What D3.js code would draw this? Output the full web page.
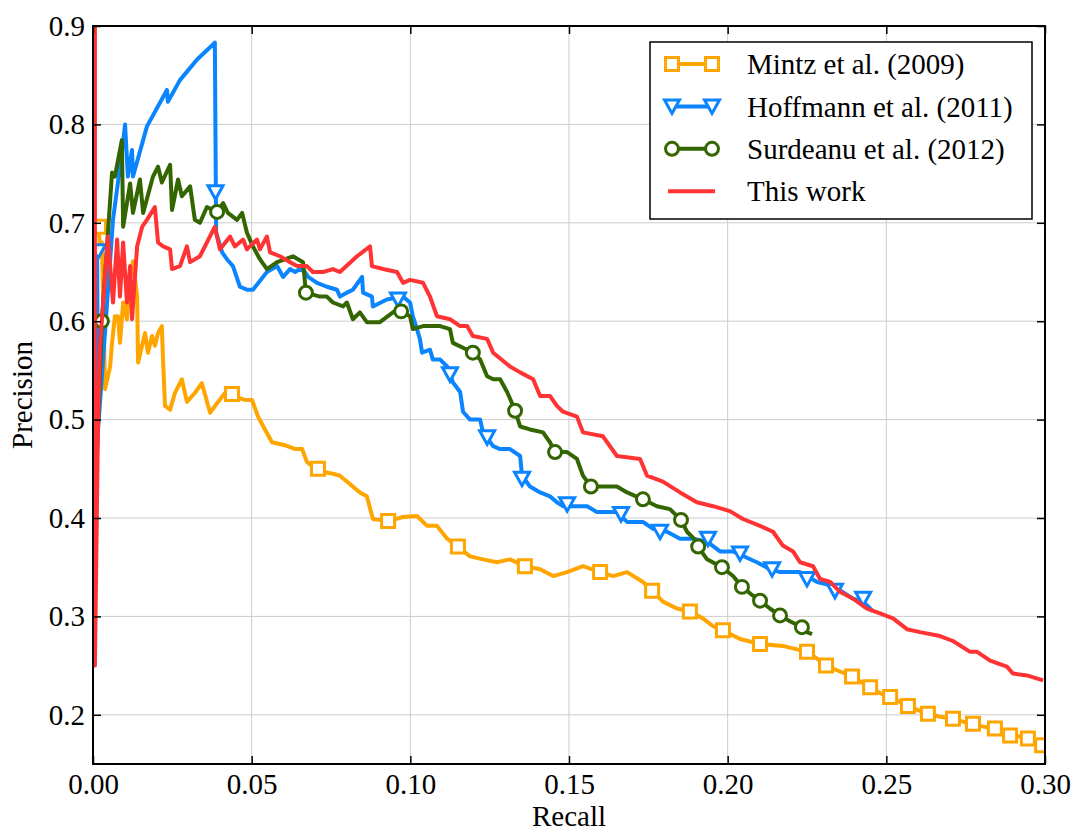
<!DOCTYPE html>
<html lang="en">
<head>
<meta charset="utf-8">
<script src="https://d3js.org/d3.v7.min.js"></script>
<style>
  body { margin: 0; background: #fff; }
  svg { display: block; font-family: "Liberation Serif", "Times New Roman", serif; }
  .grid line { stroke: #cccccc; stroke-width: 1; }
  .axis text { font-size: 29px; fill: #000; font-family: "Liberation Serif", serif; }
  .axis line { stroke: #000; stroke-width: 1.5; }
  .axis path { display: none; }
</style>
</head>
<body>
<svg id="chart"></svg>
<script>
// values: [recall, precision]
var mintz = [[0.0016,0.700],[0.0022,0.676],[0.0028,0.680],[0.0038,0.531],[0.0054,0.554],[0.0060,0.578],[0.0069,0.605],[0.0079,0.605],[0.0085,0.578],[0.0095,0.619],[0.0107,0.602],[0.0117,0.645],[0.0126,0.661],[0.0139,0.625],[0.0142,0.558],[0.0164,0.588],[0.0173,0.568],[0.0186,0.585],[0.0195,0.575],[0.0205,0.588],[0.0217,0.595],[0.0221,0.558],[0.0227,0.514],[0.0243,0.510],[0.0258,0.527],[0.0280,0.541],[0.0296,0.518],[0.0321,0.527],[0.0343,0.537],[0.0369,0.507],[0.0394,0.518],[0.0416,0.527],[0.0438,0.524],[0.0479,0.520],[0.0501,0.520],[0.0520,0.503],[0.0542,0.490],[0.0564,0.477],[0.0605,0.474],[0.0637,0.470],[0.0659,0.470],[0.0674,0.457],[0.0709,0.448],[0.0756,0.445],[0.0778,0.443],[0.0800,0.437],[0.0841,0.426],[0.0863,0.422],[0.0882,0.399],[0.0930,0.397],[0.0977,0.401],[0.1021,0.402],[0.1053,0.392],[0.1084,0.392],[0.1116,0.379],[0.1150,0.371],[0.1188,0.361],[0.1229,0.358],[0.1273,0.355],[0.1314,0.358],[0.1361,0.351],[0.1409,0.348],[0.1450,0.341],[0.1494,0.345],[0.1544,0.351],[0.1598,0.345],[0.1639,0.341],[0.1683,0.345],[0.1733,0.335],[0.1762,0.326],[0.1796,0.315],[0.1840,0.308],[0.1881,0.305],[0.1922,0.298],[0.1954,0.290],[0.1985,0.286],[0.2039,0.277],[0.2102,0.272],[0.2174,0.270],[0.2250,0.264],[0.2282,0.257],[0.2310,0.250],[0.2354,0.244],[0.2392,0.239],[0.2427,0.232],[0.2449,0.228],[0.2480,0.222],[0.2512,0.218],[0.2543,0.213],[0.2568,0.209],[0.2606,0.204],[0.2631,0.201],[0.2669,0.198],[0.2710,0.196],[0.2742,0.193],[0.2773,0.191],[0.2805,0.188],[0.2842,0.186],[0.2868,0.181],[0.2890,0.179],[0.2921,0.178],[0.2946,0.176],[0.2975,0.173],[0.2991,0.169],[0.3000,0.168]];
var mintzMarks = [[0.0019,0.696],[0.0438,0.526],[0.0709,0.450],[0.0930,0.397],[0.1150,0.371],[0.1361,0.351],[0.1598,0.345],[0.1762,0.326],[0.1881,0.305],[0.1985,0.286],[0.2102,0.272],[0.2250,0.264],[0.2310,0.250],[0.2392,0.239],[0.2449,0.228],[0.2512,0.218],[0.2568,0.209],[0.2631,0.201],[0.2710,0.196],[0.2773,0.191],[0.2842,0.186],[0.2890,0.179],[0.2946,0.176],[0.2991,0.169]];

var hoffmann = [[0.0013,0.668],[0.0016,0.490],[0.0063,0.703],[0.0091,0.771],[0.0101,0.800],[0.0110,0.747],[0.0123,0.774],[0.0126,0.747],[0.0170,0.798],[0.0233,0.835],[0.0236,0.823],[0.0274,0.845],[0.0328,0.866],[0.0384,0.883],[0.0388,0.690],[0.0407,0.670],[0.0422,0.663],[0.0441,0.656],[0.0463,0.635],[0.0485,0.632],[0.0504,0.632],[0.0548,0.650],[0.0580,0.656],[0.0599,0.645],[0.0621,0.653],[0.0637,0.650],[0.0652,0.653],[0.0668,0.650],[0.0678,0.645],[0.0706,0.639],[0.0737,0.635],[0.0769,0.632],[0.0778,0.625],[0.0800,0.629],[0.0819,0.632],[0.0848,0.645],[0.0851,0.629],[0.0879,0.625],[0.0882,0.615],[0.0926,0.622],[0.0977,0.625],[0.0999,0.619],[0.1008,0.605],[0.1021,0.592],[0.1030,0.582],[0.1037,0.568],[0.1062,0.571],[0.1071,0.561],[0.1094,0.561],[0.1116,0.554],[0.1134,0.538],[0.1157,0.528],[0.1166,0.508],[0.1188,0.500],[0.1220,0.500],[0.1229,0.487],[0.1261,0.473],[0.1283,0.470],[0.1314,0.470],[0.1346,0.463],[0.1352,0.443],[0.1377,0.432],[0.1409,0.426],[0.1440,0.422],[0.1462,0.416],[0.1481,0.412],[0.1525,0.412],[0.1557,0.412],[0.1588,0.406],[0.1651,0.406],[0.1683,0.396],[0.1733,0.396],[0.1765,0.389],[0.1809,0.386],[0.1850,0.379],[0.1891,0.379],[0.1935,0.376],[0.1976,0.366],[0.2017,0.366],[0.2092,0.355],[0.2133,0.348],[0.2165,0.345],[0.2228,0.345],[0.2282,0.335],[0.2332,0.331],[0.2395,0.318],[0.2427,0.315],[0.2449,0.308],[0.2458,0.305]];
var hoffmannMarks = [[0.0016,0.671],[0.0386,0.731],[0.0961,0.622],[0.1125,0.546],[0.1242,0.482],[0.1352,0.440],[0.1494,0.414],[0.1664,0.404],[0.1787,0.386],[0.1938,0.379],[0.2039,0.364],[0.2140,0.348],[0.2250,0.338],[0.2338,0.326],[0.2427,0.318]];

var surdeanu = [[0.0013,0.470],[0.0028,0.600],[0.0060,0.751],[0.0069,0.747],[0.0079,0.764],[0.0091,0.784],[0.0095,0.696],[0.0117,0.740],[0.0126,0.710],[0.0148,0.744],[0.0158,0.710],[0.0189,0.747],[0.0205,0.757],[0.0217,0.741],[0.0243,0.759],[0.0249,0.713],[0.0268,0.744],[0.0280,0.727],[0.0306,0.737],[0.0321,0.703],[0.0337,0.700],[0.0359,0.716],[0.0391,0.711],[0.0410,0.720],[0.0425,0.710],[0.0454,0.703],[0.0470,0.710],[0.0485,0.690],[0.0504,0.676],[0.0526,0.663],[0.0548,0.653],[0.0580,0.660],[0.0630,0.666],[0.0662,0.660],[0.0671,0.629],[0.0715,0.625],[0.0737,0.625],[0.0756,0.619],[0.0788,0.615],[0.0800,0.619],[0.0819,0.602],[0.0841,0.609],[0.0863,0.599],[0.0904,0.599],[0.0958,0.612],[0.0971,0.610],[0.0999,0.605],[0.1008,0.592],[0.1040,0.595],[0.1094,0.595],[0.1125,0.592],[0.1134,0.578],[0.1179,0.571],[0.1197,0.568],[0.1220,0.561],[0.1242,0.544],[0.1261,0.541],[0.1283,0.541],[0.1305,0.528],[0.1324,0.514],[0.1330,0.509],[0.1346,0.493],[0.1377,0.490],[0.1418,0.487],[0.1440,0.477],[0.1456,0.467],[0.1494,0.467],[0.1525,0.460],[0.1544,0.443],[0.1569,0.432],[0.1607,0.432],[0.1651,0.432],[0.1683,0.426],[0.1733,0.419],[0.1777,0.412],[0.1818,0.409],[0.1853,0.398],[0.1872,0.386],[0.1903,0.376],[0.1907,0.371],[0.1935,0.358],[0.1982,0.350],[0.2017,0.341],[0.2045,0.330],[0.2080,0.321],[0.2102,0.316],[0.2133,0.308],[0.2165,0.301],[0.2196,0.295],[0.2234,0.289],[0.2250,0.284],[0.2266,0.282]];
var surdeanuMarks = [[0.0028,0.600],[0.0391,0.711],[0.0671,0.629],[0.0971,0.610],[0.1197,0.568],[0.1330,0.509],[0.1456,0.467],[0.1569,0.432],[0.1733,0.419],[0.1853,0.398],[0.1907,0.371],[0.1982,0.350],[0.2045,0.330],[0.2102,0.316],[0.2165,0.301],[0.2234,0.289]];

var thisWork = [[0.0006,1.000],[0.0006,0.250],[0.0016,0.500],[0.0022,0.574],[0.0047,0.686],[0.0063,0.619],[0.0076,0.683],[0.0085,0.625],[0.0095,0.680],[0.0107,0.619],[0.0117,0.656],[0.0123,0.602],[0.0139,0.676],[0.0155,0.696],[0.0170,0.703],[0.0195,0.716],[0.0205,0.680],[0.0221,0.676],[0.0243,0.673],[0.0249,0.653],[0.0274,0.656],[0.0296,0.676],[0.0306,0.660],[0.0337,0.666],[0.0384,0.696],[0.0400,0.673],[0.0432,0.686],[0.0447,0.676],[0.0473,0.683],[0.0485,0.673],[0.0517,0.683],[0.0526,0.673],[0.0548,0.686],[0.0558,0.670],[0.0589,0.666],[0.0621,0.660],[0.0643,0.656],[0.0674,0.656],[0.0693,0.650],[0.0725,0.650],[0.0756,0.653],[0.0778,0.650],[0.0832,0.666],[0.0873,0.676],[0.0879,0.656],[0.0914,0.653],[0.0958,0.650],[0.0977,0.639],[0.0999,0.642],[0.1040,0.639],[0.1062,0.625],[0.1084,0.605],[0.1125,0.602],[0.1157,0.595],[0.1179,0.595],[0.1197,0.585],[0.1242,0.582],[0.1261,0.568],[0.1314,0.554],[0.1346,0.548],[0.1387,0.541],[0.1409,0.524],[0.1440,0.524],[0.1462,0.514],[0.1481,0.508],[0.1525,0.503],[0.1544,0.487],[0.1607,0.483],[0.1651,0.463],[0.1724,0.460],[0.1746,0.443],[0.1796,0.437],[0.1850,0.426],[0.1903,0.416],[0.1954,0.412],[0.2007,0.407],[0.2048,0.399],[0.2102,0.392],[0.2143,0.386],[0.2174,0.372],[0.2206,0.366],[0.2228,0.355],[0.2269,0.351],[0.2291,0.338],[0.2323,0.335],[0.2354,0.325],[0.2395,0.318],[0.2439,0.308],[0.2480,0.303],[0.2521,0.298],[0.2565,0.287],[0.2606,0.284],[0.2669,0.280],[0.2710,0.275],[0.2764,0.264],[0.2786,0.264],[0.2827,0.255],[0.2880,0.249],[0.2899,0.242],[0.2943,0.240],[0.2994,0.235]];

var xTicks = [0, 0.05, 0.10, 0.15, 0.20, 0.25, 0.30];
var yTicks = [0.2, 0.3, 0.4, 0.5, 0.6, 0.7, 0.8, 0.9];

var series = [
  { name: 'Mintz et al. (2009)', data: mintz, marks: mintzMarks, color: '#ffa500', marker: 'square' },
  { name: 'Hoffmann et al. (2011)', data: hoffmann, marks: hoffmannMarks, color: '#0a84ff', marker: 'triangle' },
  { name: 'Surdeanu et al. (2012)', data: surdeanu, marks: surdeanuMarks, color: '#336600', marker: 'circle' },
  { name: 'This work', data: thisWork, marks: [], color: '#ff3333', marker: null }
];

(function () {
  var width = 1075, height = 832;
  var pl = 93, pr = 1045, pt = 26, pb = 764;

  var svg = d3.select('#chart').attr('width', width).attr('height', height);

  var x = d3.scaleLinear().domain([0, 0.30]).range([pl, pr]);
  var y = d3.scaleLinear().domain([0.15, 0.9]).range([pb, pt]);

  svg.append('defs').append('clipPath').attr('id', 'plotclip')
    .append('rect').attr('x', pl).attr('y', pt)
    .attr('width', pr - pl).attr('height', pb - pt);

  // grid
  var grid = svg.append('g').attr('class', 'grid');
  grid.selectAll('.gx').data(xTicks.slice(1, -1)).enter().append('line')
    .attr('x1', function (d) { return x(d); }).attr('x2', function (d) { return x(d); })
    .attr('y1', pt).attr('y2', pb);
  grid.selectAll('.gy').data(yTicks.slice(0, -1)).enter().append('line')
    .attr('y1', function (d) { return y(d); }).attr('y2', function (d) { return y(d); })
    .attr('x1', pl).attr('x2', pr);

  function markerPath(type) {
    if (type === 'square') return 'M-6.5,-6.5H6.5V6.5H-6.5Z';
    if (type === 'triangle') return 'M-7.5,-6.5L7.5,-6.5L0,7Z';
    return d3.symbol().type(d3.symbolCircle).size(Math.PI * 42)();
  }

  var line = d3.line()
    .x(function (d) { return x(d[0]); })
    .y(function (d) { return y(d[1]); });

  var plot = svg.append('g').attr('clip-path', 'url(#plotclip)');

  series.forEach(function (s) {
    plot.append('path')
      .datum(s.data)
      .attr('d', line)
      .attr('fill', 'none')
      .attr('stroke', s.color)
      .attr('stroke-width', 4)
      .attr('stroke-linejoin', 'round');
    plot.selectAll(null).data(s.marks).enter().append('path')
      .attr('d', markerPath(s.marker))
      .attr('transform', function (d) { return 'translate(' + x(d[0]) + ',' + y(d[1]) + ')'; })
      .attr('fill', '#fff')
      .attr('stroke', s.color)
      .attr('stroke-width', 3);
  });

  // axes, inward ticks on all four sides
  var fmtX = d3.format('.2f'), fmtY = d3.format('.1f');
  svg.append('g').attr('class', 'axis').attr('transform', 'translate(0,' + pb + ')')
    .call(d3.axisBottom(x).tickValues(xTicks).tickFormat(fmtX).tickSizeInner(-8).tickSizeOuter(0).tickPadding(9));
  svg.append('g').attr('class', 'axis').attr('transform', 'translate(0,' + pt + ')')
    .call(d3.axisTop(x).tickValues(xTicks).tickFormat('').tickSizeInner(-8).tickSizeOuter(0));
  svg.append('g').attr('class', 'axis').attr('transform', 'translate(' + pl + ',0)')
    .call(d3.axisLeft(y).tickValues(yTicks).tickFormat(fmtY).tickSizeInner(-8).tickSizeOuter(0).tickPadding(8));
  svg.append('g').attr('class', 'axis').attr('transform', 'translate(' + pr + ',0)')
    .call(d3.axisRight(y).tickValues(yTicks).tickFormat('').tickSizeInner(-8).tickSizeOuter(0));

  svg.append('rect')
    .attr('x', pl).attr('y', pt).attr('width', pr - pl).attr('height', pb - pt)
    .attr('fill', 'none').attr('stroke', '#000').attr('stroke-width', 2);

  svg.append('text')
    .attr('x', (pl + pr) / 2).attr('y', 826)
    .attr('text-anchor', 'middle').attr('font-size', 29)
    .text('Recall');
  svg.append('text')
    .attr('transform', 'translate(32,' + ((pt + pb) / 2) + ') rotate(-90)')
    .attr('text-anchor', 'middle').attr('font-size', 29)
    .text('Precision');

  // legend
  var legend = svg.append('g');
  legend.append('rect')
    .attr('x', 650).attr('y', 42).attr('width', 382).attr('height', 177)
    .attr('fill', '#fff').attr('stroke', '#000').attr('stroke-width', 1.5);

  series.forEach(function (s, i) {
    var ly = 64 + i * 42.4;
    legend.append('line')
      .attr('x1', 668).attr('x2', 715).attr('y1', ly).attr('y2', ly)
      .attr('stroke', s.color).attr('stroke-width', 4);
    if (s.marker) {
      [672, 712].forEach(function (mx) {
        legend.append('path')
          .attr('d', markerPath(s.marker))
          .attr('transform', 'translate(' + mx + ',' + ly + ')')
          .attr('fill', '#fff').attr('stroke', s.color).attr('stroke-width', 3);
      });
    }
    legend.append('text')
      .attr('x', 747).attr('y', ly).attr('dy', '0.35em')
      .attr('font-size', 29)
      .text(s.name);
  });
})();
</script>
</body>
</html>
